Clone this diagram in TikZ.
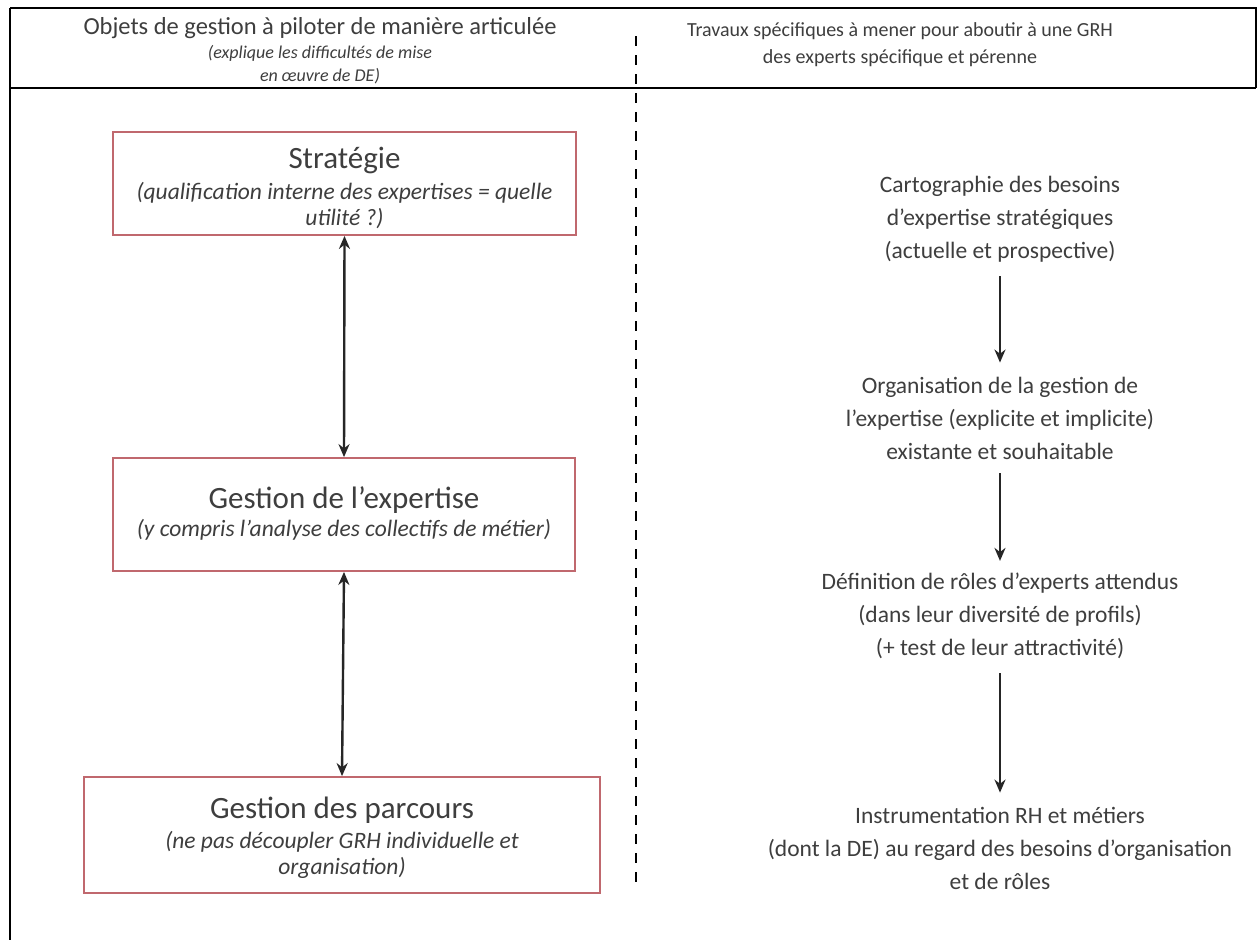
\documentclass[tikz,border=0pt]{standalone}
\usepackage{fontspec}
\setmainfont{Carlito}
\usetikzlibrary{arrows.meta}
\definecolor{boxred}{RGB}{192,104,110}
\definecolor{txt}{RGB}{62,62,62}
\begin{document}
\begin{tikzpicture}[x=1pt,y=-1pt,
  every node/.style={text=txt, inner sep=0pt},
  hdrl/.style={font=\fontsize{24.5}{27}\selectfont, align=center},
  hdrsub/.style={font=\fontsize{18}{23}\selectfont\itshape, align=center},
  hdr/.style={font=\fontsize{20}{27}\selectfont, align=center},
  objbox/.style={draw=boxred, line width=1.8pt, fill=white},
  objtitle/.style={font=\fontsize{31}{36}\selectfont},
  objsub/.style={font=\fontsize{23.5}{26}\selectfont\itshape, align=center},
  work/.style={font=\fontsize{23.5}{33}\selectfont, align=center},
  dbl/.style={{Stealth[length=13pt,width=11pt]}-{Stealth[length=13pt,width=11pt]}, line width=2.4pt, black!85},
  flow/.style={-{Stealth[length=13pt,width=11pt]}, line width=2.4pt, black!85}]
\useasboundingbox (0,0) rectangle (1258,940);
\fill[white] (0,0) rectangle (1258,940);
% frame
\draw[line width=1.4pt] (10,8) -- (1256,8) -- (1256,88);
\draw[line width=2.6pt] (10,88) -- (1256,88);
\draw[line width=2.4pt] (10,8) -- (10,940);
% divider
\draw[line width=2.6pt, dash pattern=on 10pt off 9pt] (636,36) -- (636,890);
% headers
\node[hdrl] (hl1) at (320,28) {Objets de gestion à piloter de manière articulée};
\node[hdrsub] (hl2) at (320,65) {(explique les difficultés de mise\\en œuvre de DE)};
\node[hdr] (hr) at (900,45) {Travaux spécifiques à mener pour aboutir à une GRH\\des experts spécifique et pérenne};
% left boxes
\node[objbox, minimum width=463pt, minimum height=103pt] (strat) at (344.5,183.5) {};
\node[objtitle] (stratT) at (344.5,160) {Stratégie};
\node[objsub] (stratS) at (344.5,206) {(qualification interne des expertises = quelle\\utilité ?)};
\node[objbox, minimum width=462pt, minimum height=113pt] (gexp) at (344,514.5) {};
\node[objtitle] (gexpT) at (344,500) {Gestion de l’expertise};
\node[objsub] (gexpS) at (344,530) {(y compris l’analyse des collectifs de métier)};
\node[objbox, minimum width=516pt, minimum height=116pt] (gpar) at (342,835) {};
\node[objtitle] (gparT) at (342,810) {Gestion des parcours};
\node[objsub] (gparS) at (342,855) {(ne pas découpler GRH individuelle et\\organisation)};
\draw[dbl] (strat.south) -- (gexp.north);
\draw[dbl] (gexp.south) -- (gpar.north);
% right column
\node[work] (carto) at (1000,219) {Cartographie des besoins\\d’expertise stratégiques\\(actuelle et prospective)};
\node[work] (orga) at (1000,418) {Organisation de la gestion de\\l’expertise (explicite et implicite)\\existante et souhaitable};
\node[work] (defr) at (1000,616) {Définition de rôles d’experts attendus\\(dans leur diversité de profils)\\(+ test de leur attractivité)};
\node[work] (instr) at (1000,848) {Instrumentation RH et métiers\\(dont la DE) au regard des besoins d’organisation\\et de rôles};
\draw[flow, shorten <=14pt, shorten >=14pt] (carto) -- (orga);
\draw[flow, shorten <=14pt, shorten >=12pt] (orga) -- (defr);
\draw[flow, shorten <=14pt, shorten >=14pt] (defr) -- (instr);
\end{tikzpicture}
\end{document}
